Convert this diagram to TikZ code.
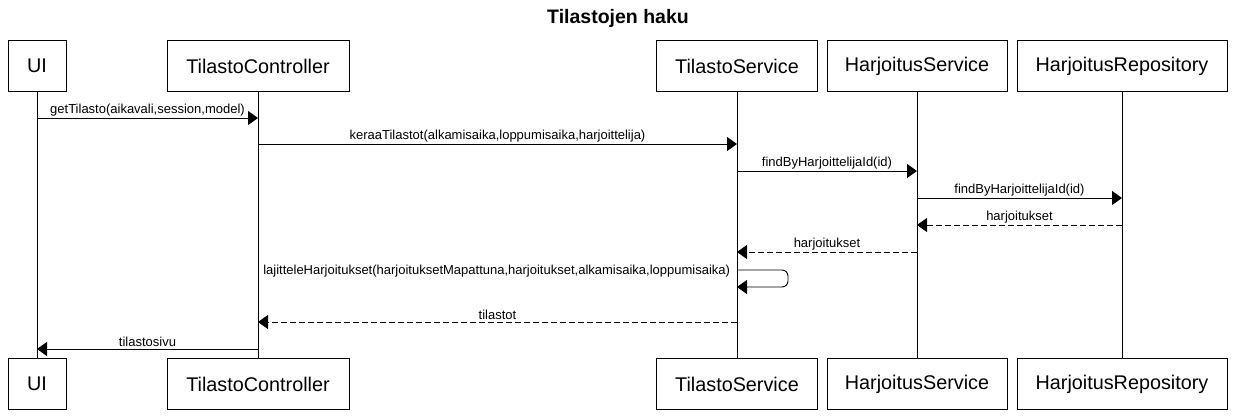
\documentclass[tikz,border=0pt]{standalone}
\usepackage{fontspec}
\setmainfont{Liberation Sans}
\usetikzlibrary{arrows.meta}

\tikzset{
  actor/.style={draw, minimum height=51pt, inner sep=0pt, font=\fontsize{19.8}{22}\selectfont},
  msg/.style={-{Triangle[length=10pt,width=14pt]}},
  reply/.style={msg, dash pattern=on 6pt off 3pt},
  lbl/.style={inner sep=1.5pt, font=\fontsize{13}{15}\selectfont}
}

\begin{document}
\begin{tikzpicture}[x=1pt,y=-1pt,line width=0.9pt]
    \useasboundingbox (0,0) rectangle (1237,418);

    % otsikko
    \node[font=\bfseries\fontsize{19.5}{22}\selectfont] (title) at (618,18) {Tilastojen haku};

    % osapuolet ylhaalla
    \node[actor, minimum width=58pt] (ui) at (37,66) {UI};
    \node[actor, minimum width=182pt] (tc) at (258,66) {TilastoController};
    \node[actor, minimum width=161pt] (ts) at (737,66) {TilastoService};
    \node[actor, minimum width=180pt] (hs) at (917,66) {HarjoitusService};
    \node[actor, minimum width=210pt] (hr) at (1122,66) {HarjoitusRepository};

    % osapuolet alhaalla
    \node[actor, minimum width=58pt] (ui2) at (37,384) {UI};
    \node[actor, minimum width=182pt] (tc2) at (258,384) {TilastoController};
    \node[actor, minimum width=161pt] (ts2) at (737,384) {TilastoService};
    \node[actor, minimum width=180pt] (hs2) at (917,384) {HarjoitusService};
    \node[actor, minimum width=210pt] (hr2) at (1122,384) {HarjoitusRepository};

    % elamanviivat
    \draw (ui.south) -- (ui2.north);
    \draw (tc.south) -- (tc2.north);
    \draw (ts.south) -- (ts2.north);
    \draw (hs.south) -- (hs2.north);
    \draw (hr.south) -- (hr2.north);

    % viestien korkeudet
    \coordinate (y1) at (0,118);
    \coordinate (y2) at (0,144);
    \coordinate (y3) at (0,171);
    \coordinate (y4) at (0,198);
    \coordinate (y5) at (0,225);
    \coordinate (y6) at (0,252);
    \coordinate (y7) at (0,270);
    \coordinate (y7b) at (0,287);
    \coordinate (y8) at (0,322);
    \coordinate (y9) at (0,349);

    % viestit
    \draw[msg] (ui |- y1) -- node[lbl, above] {getTilasto(aikavali,session,model)} (tc |- y1);
    \draw[msg] (tc |- y2) -- node[lbl, above] {keraaTilastot(alkamisaika,loppumisaika,harjoittelija)} (ts |- y2);
    \draw[msg] (ts |- y3) -- node[lbl, above] {findByHarjoittelijaId(id)} (hs |- y3);
    \draw[msg] (hs |- y4) -- node[lbl, above] {findByHarjoittelijaId(id)} (hr |- y4);
    \draw[reply] (hr |- y5) -- node[lbl, above] {harjoitukset} (hs |- y5);
    \draw[reply] (hs |- y6) -- node[lbl, above] {harjoitukset} (ts |- y6);

    % itseviesti
    \draw[msg, rounded corners=6pt] (ts |- y7) -- ++(51,0) |- (ts |- y7b);
    \node[lbl, anchor=east] (sortlbl) at ([xshift=-5pt,yshift=-1pt]ts |- y7) {lajitteleHarjoitukset(harjoituksetMapattuna,harjoitukset,alkamisaika,loppumisaika)};

    \draw[reply] (ts |- y8) -- node[lbl, above] {tilastot} (tc |- y8);
    \draw[msg] (tc |- y9) -- node[lbl, above] {tilastosivu} (ui |- y9);
\end{tikzpicture}
\end{document}
